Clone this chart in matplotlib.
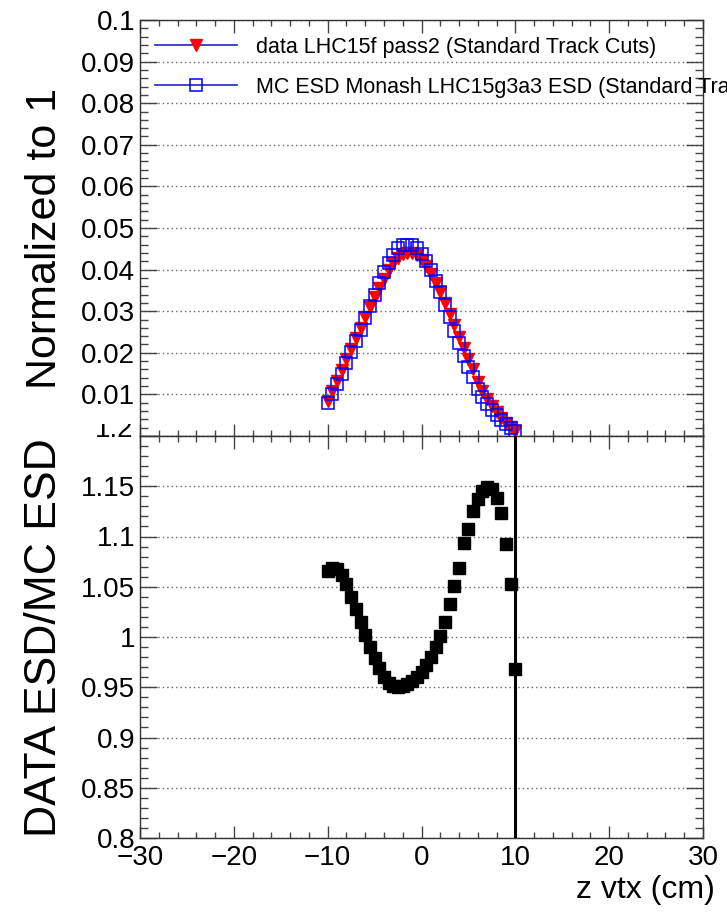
import numpy as np
import matplotlib
matplotlib.use("Agg")
import matplotlib.pyplot as plt
from matplotlib.lines import Line2D
from matplotlib.ticker import MultipleLocator, FuncFormatter
from matplotlib.transforms import Bbox

plt.rcParams["font.family"] = ["Liberation Sans", "DejaVu Sans"]

# z-vertex bin centres (cm)
zvtx = [-10.0, -9.5, -9.0, -8.5, -8.0, -7.5, -7.0, -6.5, -6.0, -5.5,
        -5.0, -4.5, -4.0, -3.5, -3.0, -2.5, -2.0, -1.5, -1.0, -0.5,
        0.0, 0.5, 1.0, 1.5, 2.0, 2.5, 3.0, 3.5, 4.0, 4.5,
        5.0, 5.5, 6.0, 6.5, 7.0, 7.5, 8.0, 8.5, 9.0, 9.5, 10.0]

# normalised z-vertex distribution, data
data_norm = [0.0085, 0.0108, 0.0133, 0.0158, 0.0185, 0.0210, 0.0235, 0.0260, 0.0285, 0.0310,
             0.0333, 0.0356, 0.0378, 0.0398, 0.0415, 0.0428, 0.0437, 0.0441, 0.0440, 0.0434,
             0.0423, 0.0408, 0.0390, 0.0368, 0.0345, 0.0320, 0.0294, 0.0266, 0.0238, 0.0211,
             0.0185, 0.0160, 0.0130, 0.0108, 0.0088, 0.0072, 0.0057, 0.0044, 0.0031, 0.0021,
             0.0012]

# normalised z-vertex distribution, MC
mc_norm = [0.0080, 0.0101, 0.0125, 0.0149, 0.0176, 0.0202, 0.0229, 0.0256, 0.0284, 0.0313,
           0.0340, 0.0367, 0.0394, 0.0417, 0.0436, 0.0451, 0.0458, 0.0460, 0.0458, 0.0451,
           0.0438, 0.0420, 0.0398, 0.0372, 0.0345, 0.0315, 0.0285, 0.0253, 0.0223, 0.0193,
           0.0167, 0.0142, 0.0114, 0.0094, 0.0077, 0.0063, 0.0050, 0.0039, 0.0028, 0.0020,
           0.0012]

# data / MC ratio and its uncertainty
ratio = [1.066, 1.069, 1.068, 1.062, 1.053, 1.040, 1.028, 1.015, 1.002, 0.990,
         0.979, 0.969, 0.960, 0.954, 0.951, 0.950, 0.951, 0.953, 0.956, 0.960,
         0.965, 0.972, 0.980, 0.990, 1.001, 1.015, 1.033, 1.051, 1.069, 1.094,
         1.107, 1.125, 1.137, 1.145, 1.149, 1.147, 1.138, 1.123, 1.093, 1.053,
         0.968]
ratio_err = [0.002] * 40 + [0.6]

label_data = "data LHC15f pass2 (Standard Track Cuts)"
label_mc = "MC ESD Monash LHC15g3a3 ESD (Standard Track Cuts)"

W, H = 727, 914
fig = plt.figure(figsize=(W / 100, H / 100), dpi=100)
fig.patch.set_facecolor("white")

left, right = 140 / W, 703 / W
ax1 = fig.add_axes([left, 1 - 436 / H, right - left, (436 - 20) / H])
ax2 = fig.add_axes([left, 1 - 838 / H, right - left, (838 - 436) / H])

BLUE = "#0000ff"
RED = "#ff0000"
TICK_FS = 20

for ax in (ax1, ax2):
    ax.set_xlim(-30, 30)
    ax.xaxis.set_major_locator(MultipleLocator(10))
    ax.xaxis.set_minor_locator(MultipleLocator(2))
    ax.tick_params(which="both", direction="in", top=True, right=True,
                   color="#444444", width=1, labelsize=TICK_FS)
    ax.tick_params(axis="y", which="major", length=12)
    ax.tick_params(axis="y", which="minor", length=6)
    ax.tick_params(axis="x", which="major", length=9)
    ax.tick_params(axis="x", which="minor", length=4.5)
    ax.yaxis.grid(True, which="major", linestyle=(0, (1, 2.2)),
                  color="#666666", linewidth=1)
    for sp in ax.spines.values():
        sp.set_color("#333333")
        sp.set_linewidth(1)
    ax.set_axisbelow(True)

# upper panel: normalised distributions
ax1.set_ylim(0, 0.1)
ax1.yaxis.set_major_locator(MultipleLocator(0.01))
ax1.yaxis.set_minor_locator(MultipleLocator(0.002))
ax1.yaxis.set_major_formatter(
    FuncFormatter(lambda v, p: "" if abs(v) < 1e-9 else f"{v:g}"))
ax1.tick_params(axis="x", labelbottom=False)
ax1.plot(zvtx, data_norm, linestyle="none", marker="v", ms=8.5,
         mfc=RED, mec=RED, zorder=3)
ax1.plot(zvtx, mc_norm, linestyle="none", marker="s", ms=9,
         mfc="none", mec=BLUE, mew=1.1, zorder=4)

handles = [
    Line2D([0], [0], color="#2222cc", lw=1.2, marker="v", ms=8.5,
           mfc=RED, mec=RED),
    Line2D([0], [0], color="#2222cc", lw=1.2, marker="s", ms=9,
           mfc="none", mec=BLUE, mew=1.1),
]
leg = ax1.legend(handles, [label_data, label_mc], loc="upper left",
                 bbox_to_anchor=(155 / W, 1 - 37 / H),
                 bbox_transform=fig.transFigure, frameon=False,
                 fontsize=15.5, handlelength=3.8, handletextpad=0.9,
                 labelspacing=0.88, borderpad=0, borderaxespad=0)
for t in leg.get_texts():
    t.set_clip_on(False)

# lower panel: ratio
ax2.set_ylim(0.8, 1.2)
ax2.yaxis.set_major_locator(MultipleLocator(0.05))
ax2.yaxis.set_minor_locator(MultipleLocator(0.01))
ax2.yaxis.set_major_formatter(
    FuncFormatter(lambda v, p: "" if v > 1.19 else f"{v:g}"))
ax2.errorbar(zvtx, ratio, yerr=ratio_err, fmt="s", color="black", ms=8,
             elinewidth=2.2, capsize=0, zorder=3)
ax2.tick_params(axis="x", pad=5)

# top label of the ratio axis, partly hidden under the upper pad
top_lab = fig.text(133 / W, 1 - 437 / H, "1.2", ha="right", va="baseline",
                   fontsize=TICK_FS)
top_lab.set_clip_box(Bbox.from_extents(0, 0, W, H - 424))
top_lab.set_clip_on(True)

# axis titles
fig.text(45 / W, 1 - 88 / H, "Normalized to 1", rotation=90,
         ha="center", va="top", fontsize=31)
fig.text(45 / W, 1 - 438 / H, "DATA ESD/MC ESD", rotation=90,
         ha="center", va="top", fontsize=32)
fig.text(715 / W, 1 - 890 / H, "z vtx (cm)", ha="right", va="center",
         fontsize=23)

fig.savefig("out.png", dpi=100, facecolor="white")
